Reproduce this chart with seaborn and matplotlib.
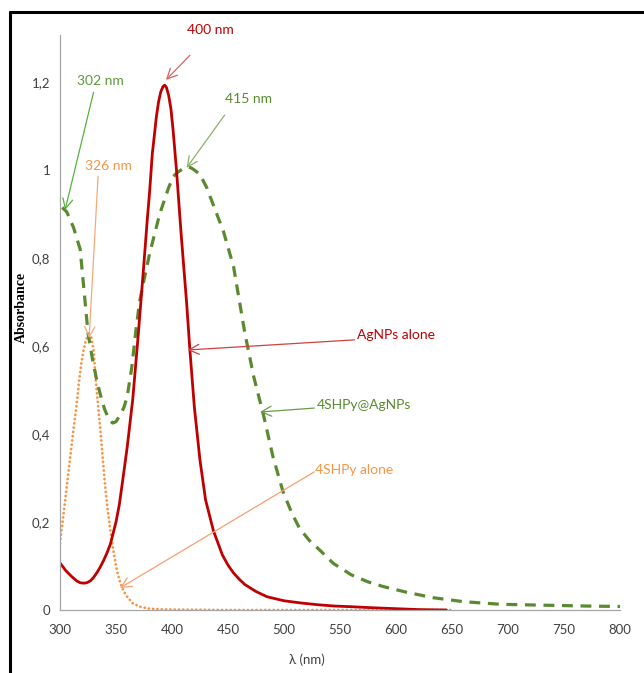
import matplotlib
matplotlib.use("Agg")
import matplotlib.pyplot as plt
import seaborn as sns
import pandas as pd
from matplotlib.lines import Line2D

# ---------------- data ----------------
agnps_nm = [300, 305, 310, 315, 318, 321, 324, 327, 330, 333, 336, 339, 342, 345, 350, 353,
            356, 360, 365, 370, 375, 378, 380, 382.5, 383, 386, 388, 390, 392, 393.5, 395,
            397, 399, 401, 404, 408, 413, 416, 420, 425, 430, 437, 445, 450, 455, 460, 465,
            475, 485, 500, 515, 530, 545, 560, 580, 600, 620, 645]
agnps_abs = [0.107, 0.09, 0.077, 0.066, 0.062, 0.061, 0.062, 0.066, 0.074, 0.085, 0.098,
             0.113, 0.13, 0.15, 0.2, 0.24, 0.295, 0.37, 0.48, 0.63, 0.79, 0.89, 0.95, 1.04,
             1.05, 1.12, 1.155, 1.178, 1.19, 1.193, 1.188, 1.17, 1.14, 1.09, 1.0, 0.86, 0.70,
             0.59, 0.46, 0.34, 0.25, 0.18, 0.125, 0.102, 0.084, 0.07, 0.058, 0.042, 0.03,
             0.021, 0.016, 0.012, 0.009, 0.0075, 0.005, 0.003, 0.001, 0.0]

complex_nm = [302, 306, 312, 318, 325, 329, 333, 337, 340, 344, 347, 350, 354, 357, 360, 364,
              368, 371, 375, 380, 385, 389, 393, 397, 401, 405, 408, 411, 414, 417, 420, 425,
              431, 437, 446, 455, 465, 473, 482, 490, 499, 507, 514, 523, 532, 544, 560, 575,
              589, 610, 633, 660, 693, 730, 770, 800]
complex_abs = [0.915, 0.905, 0.87, 0.82, 0.63, 0.57, 0.52, 0.48, 0.455, 0.432, 0.425, 0.428,
               0.445, 0.46, 0.485, 0.55, 0.64, 0.70, 0.75, 0.81, 0.86, 0.9, 0.93, 0.96, 0.985,
               0.995, 1.0, 1.005, 1.007, 1.005, 1.0, 0.99, 0.96, 0.92, 0.86, 0.78, 0.63, 0.53,
               0.44, 0.35, 0.27, 0.22, 0.185, 0.157, 0.136, 0.106, 0.08, 0.064, 0.053, 0.04,
               0.028, 0.019, 0.013, 0.011, 0.009, 0.008]

shpy_nm = [300, 303, 306, 309, 312, 315, 317, 319, 321, 323, 325, 327, 328, 330, 332, 334,
           336, 338, 340, 342, 345, 348, 350, 352, 354, 357, 360, 365, 372, 380, 390, 400,
           450, 500, 550, 600, 650]
shpy_abs = [0.152, 0.215, 0.28, 0.345, 0.41, 0.47, 0.52, 0.56, 0.59, 0.612, 0.625, 0.625,
            0.62, 0.59, 0.52, 0.465, 0.41, 0.35, 0.29, 0.24, 0.18, 0.13, 0.1, 0.078, 0.06,
            0.042, 0.03, 0.015, 0.007, 0.003, 0.0015, 0.001, 0.0, 0.0, 0.0, 0.0, 0.0]

x_ticks = [300, 350, 400, 450, 500, 550, 600, 650, 700, 750, 800]
y_ticks = [0, 0.2, 0.4, 0.6, 0.8, 1.0, 1.2]
y_tick_labels = ["0", "0,2", "0,4", "0,6", "0,8", "1", "1,2"]

RED = "#c00000"
GREEN = "#5a8a30"
ORANGE = "#f79646"

# ---------------- figure ----------------
sns.set_theme(style="white")
plt.rcParams["font.family"] = ["Lato", "DejaVu Sans"]

W, H = 644, 673
fig = plt.figure(figsize=(W / 100, H / 100), dpi=100)
ax = fig.add_axes([60 / W, (H - 610) / H, 560 / W, 575 / H])

df_ag = pd.DataFrame({"nm": agnps_nm, "abs": agnps_abs})
df_cx = pd.DataFrame({"nm": complex_nm, "abs": complex_abs})
df_sh = pd.DataFrame({"nm": shpy_nm, "abs": shpy_abs})

sns.lineplot(data=df_sh, x="nm", y="abs", ax=ax, color=ORANGE, linewidth=2.0,
             linestyle=(0, (0.05, 1.5)), dash_capstyle="round", sort=False)
sns.lineplot(data=df_cx, x="nm", y="abs", ax=ax, color=GREEN, linewidth=2.3,
             linestyle=(0, (3.4, 2.4)), sort=False)
sns.lineplot(data=df_ag, x="nm", y="abs", ax=ax, color=RED, linewidth=2.0, sort=False)

ax.set_xlim(300, 800)
ax.set_ylim(0, 1.307)
ax.set_xticks(x_ticks)
ax.set_yticks(y_ticks)
ax.set_yticklabels(y_tick_labels)
ax.tick_params(axis="both", which="both", direction="out", length=4, width=0.9,
               color="#a6a6a6", labelcolor="#404040", labelsize=9.5, pad=3)
ax.tick_params(axis="x", pad=6)
for s in ["top", "right"]:
    ax.spines[s].set_visible(False)
for s in ["left", "bottom"]:
    ax.spines[s].set_color("#a6a6a6")
    ax.spines[s].set_linewidth(0.9)

ax.set_xlabel("")
ax.set_ylabel("")
fig.text(307 / W, 1 - 660 / H, "λ (nm)", ha="center", va="center", fontsize=9.5,
         color="#404040")
fig.text(21 / W, 1 - 307 / H, "Absorbance", ha="center", va="center", rotation=90,
         fontsize=10, fontweight="bold", family="Liberation Serif", color="black")

# ---------------- annotations ----------------
def note(text, xytext, xy, tcolor, acolor, tpos, ha="center"):
    ax.annotate("", xy=xy, xytext=xytext,
                arrowprops=dict(arrowstyle="->,head_length=0.6,head_width=0.3",
                                color=acolor, lw=0.9, shrinkA=0, shrinkB=0),
                annotation_clip=False)
    ax.text(tpos[0], tpos[1], text, color=tcolor, fontsize=10, ha=ha, va="center",
            clip_on=False)

note("400 nm", (416, 1.261), (394.6, 1.205), RED, "#e06060", (434, 1.318))
note("415 nm", (447, 1.125), (413, 1.005), GREEN, "#8ab06a", (468, 1.161))
note("302 nm", (330, 1.177), (304.5, 0.909), "#5a9a3a", "#58b040", (335.7, 1.202))
note("326 nm", (334, 0.986), (326, 0.618), ORANGE, "#f7a878", (343, 1.009))
note("AgNPs alone", (563, 0.614), (414, 0.591), RED, "#d04040", (565, 0.625), ha="left")
note("4SHPy@AgNPs", (527, 0.459), (478.6, 0.45), GREEN, "#6a9a48", (529, 0.466), ha="left")
note("4SHPy alone", (527, 0.314), (353.6, 0.05), ORANGE, "#f7a070", (528, 0.318), ha="left")

# figure frame (top & left)
fig.add_artist(Line2D([10 / W, 10 / W], [0, 1 - 12 / H], transform=fig.transFigure,
                      color="black", linewidth=2.2))
fig.add_artist(Line2D([10 / W, 1], [1 - 12 / H, 1 - 12 / H], transform=fig.transFigure,
                      color="black", linewidth=2.2))

fig.savefig("out.png", dpi=100, facecolor="white")
